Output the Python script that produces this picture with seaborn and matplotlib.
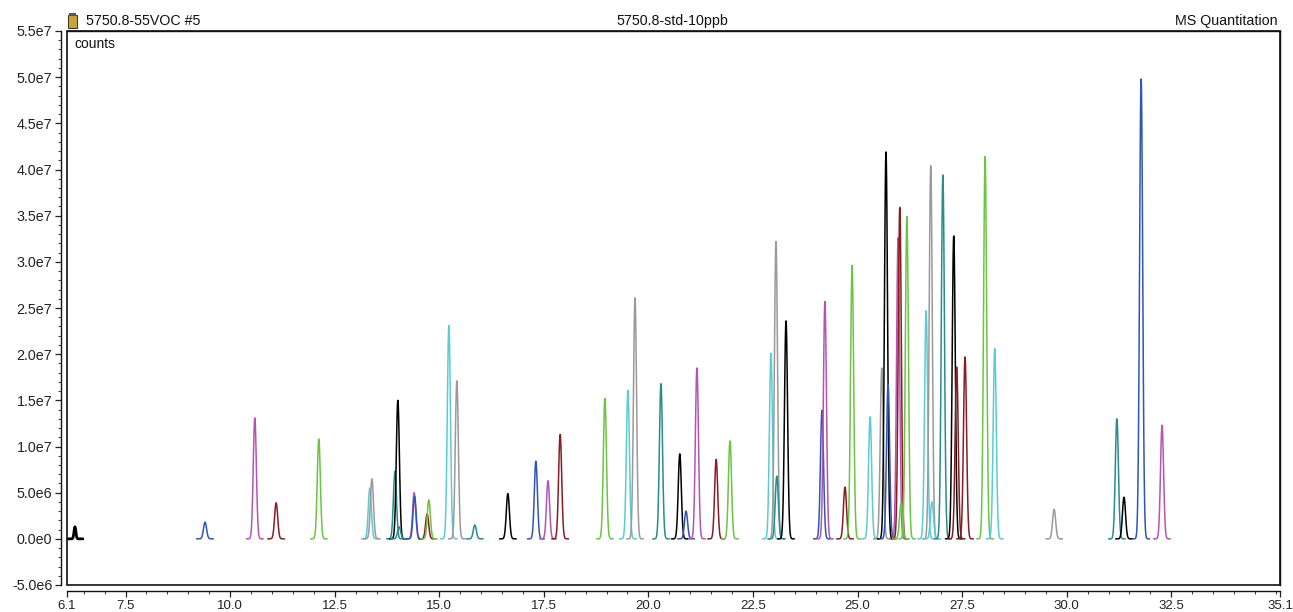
import numpy as np
import pandas as pd
import matplotlib
matplotlib.use("Agg")
import matplotlib.pyplot as plt
from matplotlib.patches import Rectangle
from matplotlib.ticker import FixedLocator, MultipleLocator, FuncFormatter
import seaborn as sns

# ---- data (retention time in min, height in counts) ----
peak_times = [9.40, 10.59, 11.10, 12.12, 13.34, 13.39, 13.94, 14.01, 14.04, 14.40, 14.41,
              14.71, 14.75, 15.23, 15.42, 15.85, 16.64, 17.31, 17.60, 17.89, 18.96, 19.51,
              19.68, 20.30, 20.75, 20.90, 21.16, 21.62, 21.95, 22.93, 23.05, 23.07, 23.29,
              24.15, 24.22, 24.70, 24.87, 25.30, 25.58, 25.68, 25.73, 25.97, 26.01, 26.04,
              26.18, 26.64, 26.75, 26.78, 27.04, 27.30, 27.37, 27.57, 28.05, 28.28, 29.70,
              31.20, 31.37, 31.78, 32.28]
peak_heights_e6 = [1.8, 13.1, 3.9, 10.8, 5.5, 6.5, 7.3, 15.0, 1.3, 5.0, 4.6,
                   2.7, 4.2, 23.1, 17.1, 1.5, 4.9, 8.4, 6.3, 11.3, 15.2, 16.1,
                   26.1, 16.8, 9.2, 3.0, 18.5, 8.6, 10.6, 20.1, 32.2, 6.8, 23.6,
                   13.9, 25.7, 5.6, 29.6, 13.2, 18.5, 41.9, 16.7, 32.6, 35.9, 3.8,
                   34.9, 24.7, 40.4, 4.0, 39.4, 32.8, 18.6, 19.7, 41.4, 20.6, 3.2,
                   13.0, 4.5, 49.8, 12.3]
peak_colors = ["blue", "magenta", "darkred", "green", "cyan", "gray", "teal", "black", "teal", "magenta", "blue",
               "darkred", "green", "cyan", "gray", "teal", "black", "blue", "magenta", "darkred", "green", "cyan",
               "gray", "teal", "black", "blue", "magenta", "darkred", "green", "cyan", "gray", "teal", "black",
               "blue", "magenta", "darkred", "green", "cyan", "gray", "black", "blue", "magenta", "darkred", "green",
               "green", "cyan", "gray", "cyan", "teal", "black", "darkred", "darkred", "green", "cyan", "gray",
               "teal", "black", "blue", "magenta"]

# first (solvent) trace near the start
first_time = 6.29
first_height_e6 = 1.3

palette_map = {"black": "#000000", "blue": "#2f55b8", "magenta": "#b455b4",
               "darkred": "#8b1c24", "green": "#6cc443", "cyan": "#5ccbd6",
               "gray": "#9a9a9a", "teal": "#2a8c8c"}

x_ticks = [6.1, 7.5, 10.0, 12.5, 15.0, 17.5, 20.0, 22.5, 25.0, 27.5, 30.0, 32.5, 35.1]

# ---- build peak profiles ----
sigma = 0.037
half_win = 0.2
rows = []
for i, (t0, h, c) in enumerate(zip(peak_times, peak_heights_e6, peak_colors)):
    t = np.linspace(t0 - half_win, t0 + half_win, 121)
    y = h * 1e6 * np.exp(-(t - t0) ** 2 / (2 * sigma ** 2))
    for tt, yy in zip(t, y):
        rows.append((tt, yy, f"p{i:02d}"))
df = pd.DataFrame(rows, columns=["t", "counts", "pid"])
pal = {f"p{i:02d}": palette_map[c] for i, c in enumerate(peak_colors)}

tf = np.linspace(6.1, 6.48, 80)
yf = first_height_e6 * 1e6 * np.exp(-(tf - first_time) ** 2 / (2 * 0.022 ** 2))
df_first = pd.DataFrame({"t": tf, "counts": yf})

# ---- figure ----
sns.set_style("white")
plt.rcParams["font.family"] = ["Liberation Sans", "DejaVu Sans"]

fig = plt.figure(figsize=(12.93, 6.12), dpi=100)
ax = fig.add_axes([67 / 1293, 1 - 585 / 612, 1213 / 1293, 554 / 612])

sns.lineplot(data=df, x="t", y="counts", hue="pid", palette=pal, legend=False,
             estimator=None, sort=False, linewidth=1.1, ax=ax)
sns.lineplot(data=df_first, x="t", y="counts", color="black", linewidth=2.0,
             estimator=None, sort=False, ax=ax)

ax.set_xlim(6.1, 35.1)
ax.set_ylim(-5e6, 5.5e7)
ax.set_xlabel("")
ax.set_ylabel("")

ax.xaxis.set_major_locator(FixedLocator(x_ticks))
ax.xaxis.set_minor_locator(FixedLocator([v for v in np.arange(6.5, 35.1, 0.5)
                                         if all(abs(v - m) > 1e-6 for m in x_ticks)]))
ax.xaxis.set_major_formatter(FuncFormatter(lambda v, p: f"{v:.1f}"))
ax.yaxis.set_major_locator(MultipleLocator(5e6))
ax.yaxis.set_minor_locator(MultipleLocator(1e6))


def yfmt(v, p):
    if abs(v) < 1:
        return "0.0e0"
    e = int(np.floor(np.log10(abs(v))))
    m = v / 10 ** e
    return f"{m:.1f}e{e}"


ax.yaxis.set_major_formatter(FuncFormatter(yfmt))

for s in ["left", "bottom"]:
    ax.spines[s].set_position(("outward", 4.5))
    ax.spines[s].set_color("#111111")
    ax.spines[s].set_linewidth(1.0)
for s in ["top", "right"]:
    ax.spines[s].set_color("#111111")
    ax.spines[s].set_linewidth(1.0)
ax.add_patch(Rectangle((0, 0), 1, 1, transform=ax.transAxes, fill=False,
                       edgecolor="#111111", linewidth=1.2, clip_on=False, zorder=5))

ax.tick_params(axis="both", which="major", direction="out", length=4, width=0.9,
               color="#222222", labelcolor="#222222", pad=2,
               left=True, bottom=True)
ax.tick_params(axis="x", which="major", labelsize=9.5)
ax.tick_params(axis="y", which="major", labelsize=10.3)
ax.tick_params(axis="both", which="minor", direction="out", length=2.5, width=0.8,
               color="#444444", left=True, bottom=True)

ax.text(7 / 1213, 1 - 13 / 554, "counts", transform=ax.transAxes, fontsize=10,
        ha="left", va="center", color="#111111")

ytxt = 1 - 21 / 612
fig.text(86 / 1293, ytxt, "5750.8-55VOC #5", fontsize=10.3, ha="left", va="center", color="#111111")
fig.text(672 / 1293, ytxt, "5750.8-std-10ppb", fontsize=10.3, ha="center", va="center", color="#111111")
fig.text(1278 / 1293, ytxt, "MS Quantitation", fontsize=10.3, ha="right", va="center", color="#111111")

# small vial icon
fig.patches.append(Rectangle((68 / 1293, 1 - 28 / 612), 9 / 1293, 13 / 612,
                             transform=fig.transFigure, facecolor="#c9a43c",
                             edgecolor="#4a3a20", linewidth=0.8))
fig.patches.append(Rectangle((69 / 1293, 1 - 16 / 612), 7 / 1293, 3 / 612,
                             transform=fig.transFigure, facecolor="#555555",
                             edgecolor="none"))

fig.savefig("out.png", dpi=100)
